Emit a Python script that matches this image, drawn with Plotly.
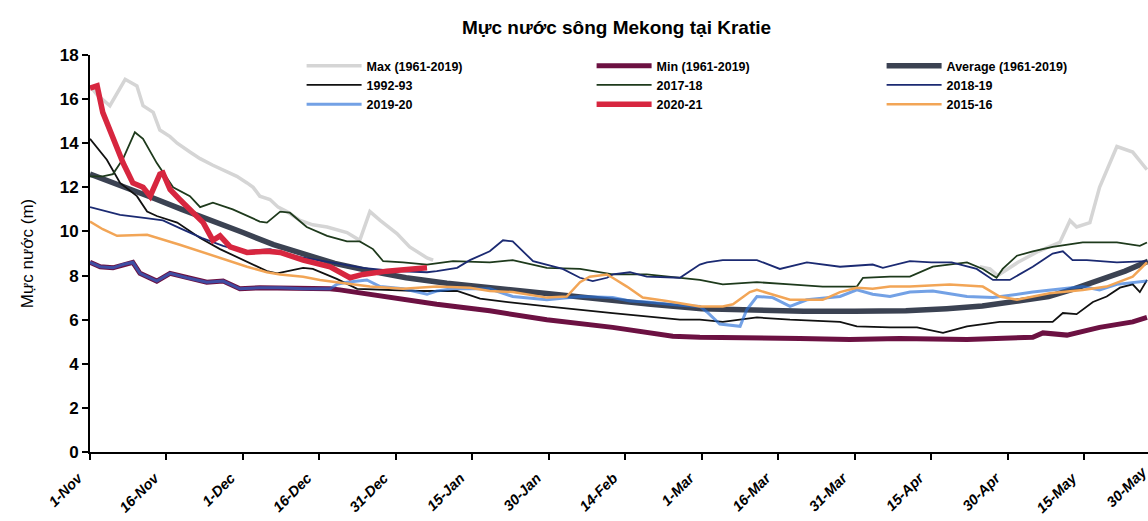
import plotly.graph_objects as go

# ---------------- data (day index from 1-Nov, water level in m) ----------------
tick_days = [0, 15, 30, 45, 60, 75, 90, 105, 120, 135, 150, 165, 180, 195, 210]
tick_labels = ["1-Nov", "16-Nov", "1-Dec", "16-Dec", "31-Dec", "15-Jan", "30-Jan", "14-Feb",
               "1-Mar", "16-Mar", "31-Mar", "15-Apr", "30-Apr", "15-May", "30-May"]

max_days = [0, 1.4, 3.9, 6.9, 9.2, 10.4, 12.4, 13.7, 15.7, 17.1, 19.6, 21.6, 24.1, 26.9, 28.8,
            30.8, 32.0, 33.3, 35.3, 36.9, 38.6, 41.2, 43.7, 46.5, 50.4, 52.9, 54.9, 56.9, 60.2,
            62.7, 66.1, 67.3, None, 174.5, 176.5, 178.0, 182.0, 186.0, 190.2, 192.2, 193.5, 196.1,
            198.0, 201.4, 204.5, 207.3]
max_vals = [16.6, 16.2, 15.7, 16.9, 16.6, 15.7, 15.4, 14.6, 14.3, 14.0, 13.6, 13.3, 13.0, 12.7, 12.5,
            12.2, 12.0, 11.6, 11.45, 11.1, 10.9, 10.5, 10.3, 10.2, 9.95, 9.6, 10.9, 10.5, 9.9,
            9.3, 8.8, 8.7, None, 8.4, 8.3, 8.0, 8.6, 9.1, 9.5, 10.5, 10.2, 10.4,
            12.0, 13.85, 13.6, 12.8]

min_days = [0, 2.0, 4.5, 6.5, 8.4, 9.8, 13.1, 15.7, 19.0, 22.9, 26.1, 29.4, 33.3, 37.3, 41.8,
            47.1, 49.0, 54.9, 61.4, 68.0, 78.4, 89.6, 102.5, 114.3, 119.6, 129.4, 139.2, 149.0,
            158.8, 172.0, 184.9, 186.9, 191.6, 198.0, 204.5, 207.3]
min_vals = [8.6, 8.4, 8.35, 8.5, 8.6, 8.1, 7.75, 8.1, 7.9, 7.7, 7.75, 7.4, 7.45, 7.45, 7.4,
            7.4, 7.35, 7.15, 6.9, 6.7, 6.4, 6.0, 5.65, 5.25, 5.2, 5.2, 5.15, 5.1,
            5.15, 5.1, 5.2, 5.4, 5.3, 5.65, 5.9, 6.1]

avg_days = [0, 6, 12, 18, 24, 30, 36, 42, 48, 55, 62, 70, 80, 90, 100, 110, 120, 130, 140,
            150, 160, 168, 175, 182, 188, 193, 198, 203, 207.5]
avg_vals = [12.6, 12.1, 11.55, 11.0, 10.5, 9.95, 9.4, 8.95, 8.55, 8.2, 7.9, 7.65, 7.4, 7.15,
            6.9, 6.7, 6.5, 6.42, 6.38, 6.38, 6.4, 6.5, 6.62, 6.85, 7.05, 7.4, 7.8, 8.2, 8.65]

y9293_days = [0, 3.3, 5.9, 9.2, 11.2, 13.1, 17.1, 21.6, 25.5, 28.8, 32.0, 34.7, 36.7, 39.0,
              41.8, 43.7, 48.4, 52.4, 58.8, 64.7, 72.0, 76.5, 80.0, 89.6, 102.5, 104.5, 115.7,
              119.6, 124.1, 130.8, 137.3, 147.1, 150.4, 156.9, 162.2, 167.3, 172.0, 178.4, 188.8,
              190.8, 193.5, 196.7, 199.4, 202.0, 204.5, 205.9, 207.3]
y9293_vals = [14.2, 13.25, 12.2, 11.6, 10.9, 10.7, 10.4, 9.7, 9.2, 8.85, 8.5, 8.2, 8.1, 8.2,
              8.35, 8.3, 7.85, 7.4, 7.35, 7.3, 7.3, 6.95, 6.85, 6.6, 6.3, 6.25, 6.0,
              6.0, 5.9, 6.1, 6.0, 5.9, 5.7, 5.65, 5.65, 5.4, 5.7, 5.9, 5.9,
              6.3, 6.25, 6.8, 7.05, 7.45, 7.6, 7.25, 7.8]

y1718_days = [0, 2.5, 4.5, 6.5, 8.8, 10.4, 13.1, 16.3, 19.6, 21.6, 24.1, 28.0, 33.3, 34.7,
              37.3, 39.2, 42.5, 46.5, 50.4, 52.9, 55.5, 57.5, 61.4, 66.1, 71.2, 78.4, 82.9, 89.6,
              96.1, 102.5, 109.2, 115.7, 119.6, 124.1, 130.8, 137.3, 143.7, 150.4, 151.6, 156.9,
              160.8, 165.3, 172.0, 175.1, 177.8, 179.0, 181.8, 184.9, 188.8, 194.7, 201.4, 205.9,
              207.3]
y1718_vals = [12.5, 12.5, 12.6, 13.3, 14.5, 14.2, 13.1, 12.0, 11.6, 11.1, 11.3, 11.0, 10.45, 10.4,
              10.9, 10.85, 10.2, 9.8, 9.55, 9.55, 9.2, 8.65, 8.6, 8.5, 8.65, 8.6, 8.7, 8.35,
              8.3, 8.05, 8.05, 7.9, 7.8, 7.6, 7.7, 7.6, 7.5, 7.5, 7.9, 7.95,
              7.95, 8.4, 8.6, 8.3, 7.9, 8.3, 8.9, 9.1, 9.3, 9.5, 9.5, 9.35,
              9.5]

y1819_days = [0, 5.9, 11.0, 14.3, 17.6, 22.0, 26.1, 30.0, 35.3, 41.0, 48.4, 53.5, 60.0, 66.1,
              68.0, 72.0, 74.5, 78.4, 81.0, 82.9, 86.9, 89.6, 92.7, 96.1, 98.6, 101.4, 102.5,
              105.9, 109.2, 115.7, 118.2, 119.6, 121.0, 124.1, 130.8, 135.3, 140.6, 147.1, 153.5,
              155.5, 160.8, 165.0, 169.0, 173.9, 177.1, 180.4, 184.9, 188.8, 190.8, 192.7, 195.5,
              201.4, 207.3]
y1819_vals = [11.1, 10.75, 10.6, 10.5, 10.15, 9.7, 9.35, 9.1, 9.2, 8.85, 8.55, 8.35, 8.2, 8.15,
              8.2, 8.35, 8.7, 9.1, 9.6, 9.55, 8.65, 8.5, 8.3, 7.9, 7.75, 7.9, 8.05,
              8.15, 7.95, 7.9, 8.3, 8.5, 8.6, 8.7, 8.7, 8.3, 8.6, 8.4, 8.5,
              8.35, 8.65, 8.6, 8.6, 8.3, 7.8, 7.8, 8.4, 9.0, 9.1, 8.7, 8.7,
              8.6, 8.65]

y1920_days = [0, 2.0, 4.5, 6.5, 8.4, 9.8, 13.1, 15.7, 19.0, 22.9, 26.1, 29.4, 33.3, 37.3, 41.8,
              47.1, 48.4, 50.4, 54.3, 56.9, 61.4, 66.1, 68.0, 71.2, 78.4, 82.9, 89.6, 96.1, 102.5,
              105.9, 109.2, 115.7, 119.6, 121.0, 123.5, 127.5, 128.8, 130.8, 133.9, 137.3, 140.6,
              147.1, 150.4, 153.5, 156.9, 160.8, 165.3, 172.0, 177.1, 184.9, 194.7, 198.0, 201.4,
              207.3]
y1920_vals = [8.6, 8.4, 8.35, 8.5, 8.6, 8.1, 7.75, 8.1, 7.9, 7.7, 7.75, 7.4, 7.45, 7.45, 7.4,
              7.4, 7.6, 7.7, 7.8, 7.5, 7.4, 7.15, 7.3, 7.4, 7.4, 7.05, 6.9, 7.05, 7.0,
              6.85, 6.8, 6.65, 6.6, 6.35, 5.8, 5.7, 6.45, 7.05, 7.0, 6.6, 6.9,
              7.05, 7.35, 7.15, 7.05, 7.25, 7.3, 7.05, 7.0, 7.25, 7.5, 7.35, 7.6,
              7.75]

y2021_days = [0, 1.4, 2.5, 4.5, 6.5, 8.4, 10.4, 11.8, 13.7, 14.3, 15.7, 17.6, 19.6, 22.2, 24.1,
              25.5, 27.5, 30.8, 34.7, 37.3, 41.8, 47.1, 51.0, 53.5, 58.2, 62.7, 66.1]
y2021_vals = [16.5, 16.6, 15.4, 14.2, 13.1, 12.2, 12.0, 11.6, 12.6, 12.65, 11.9, 11.45, 11.0, 10.4,
              9.6, 9.8, 9.3, 9.05, 9.1, 9.05, 8.7, 8.4, 7.9, 8.05, 8.2, 8.3, 8.35]

y1516_days = [0, 2.5, 5.3, 11.2, 17.6, 24.1, 30.8, 34.7, 37.3, 41.8, 45.1, 48.4, 54.9, 61.4, 68.0,
              74.5, 78.4, 82.9, 89.6, 93.5, 96.1, 98.0, 101.4, 102.5, 105.3, 108.4, 113.1, 119.6,
              124.1, 126.1, 129.4, 130.8, 133.9, 137.3, 143.7, 147.1, 150.4, 153.5, 156.9, 160.8,
              168.6, 175.1, 178.4, 181.8, 188.2, 194.7, 199.4, 204.5, 207.3]
y1516_vals = [10.45, 10.1, 9.8, 9.85, 9.4, 8.9, 8.4, 8.15, 8.05, 7.95, 7.8, 7.7, 7.5, 7.4, 7.5,
              7.45, 7.3, 7.25, 7.0, 7.05, 7.7, 7.95, 8.05, 7.9, 7.5, 7.0, 6.85, 6.6,
              6.6, 6.7, 7.25, 7.35, 7.15, 6.9, 6.9, 7.25, 7.45, 7.4, 7.5, 7.5,
              7.6, 7.5, 7.05, 6.9, 7.2, 7.35, 7.5, 7.95, 8.6]

# ---------------- figure ----------------
series = [
    ("Max (1961-2019)", max_days, max_vals, "#d5d5d5", 3.5),
    ("Min (1961-2019)", min_days, min_vals, "#6c1142", 5.0),
    ("Average (1961-2019)", avg_days, avg_vals, "#3b4252", 5.5),
    ("1992-93", y9293_days, y9293_vals, "#111111", 1.8),
    ("2017-18", y1718_days, y1718_vals, "#1e3a1c", 1.8),
    ("2018-19", y1819_days, y1819_vals, "#1b2a72", 1.8),
    ("2019-20", y1920_days, y1920_vals, "rgba(40,110,215,0.65)", 3.0),
    ("2020-21", y2021_days, y2021_vals, "#d7263f", 5.5),
    ("2015-16", y1516_days, y1516_vals, "#f2a556", 2.5),
]

fig = go.Figure()
for name, xs, ys, color, width in series:
    fig.add_trace(go.Scatter(
        x=xs, y=ys, name=name, mode="lines",
        line=dict(color=color, width=width), connectgaps=False,
    ))

x_end = 207.5
shown = [(d, l) for d, l in zip(tick_days, tick_labels) if d <= x_end]
tick_font = dict(size=14.5, weight="bold", style="italic", color="black")
fig.update_layout(
    width=1148, height=521,
    margin=dict(l=90, r=0, t=55, b=69, autoexpand=False),
    paper_bgcolor="white", plot_bgcolor="white",
    font=dict(family="Liberation Sans, Arial, sans-serif", color="black"),
    title=dict(text="<b>Mực nước sông Mekong tại Kratie</b>", x=0.537, xanchor="center",
               y=0.948, yanchor="middle", font=dict(size=19, color="black")),
    showlegend=True,
    legend=dict(orientation="h", x=0.2, y=1.01, xanchor="left", yanchor="top",
                entrywidth=220, entrywidthmode="pixels", itemwidth=55,
                font=dict(size=12.5, weight="bold"), bgcolor="rgba(0,0,0,0)",
                traceorder="normal", tracegroupgap=0),
    xaxis=dict(range=[0, x_end], tickmode="array", automargin=False,
               tickvals=[d for d, _ in shown], ticktext=[l for _, l in shown],
               tickangle=-45, tickfont=tick_font, ticklabelshift=-12, ticklabelstandoff=4,
               showline=True, linecolor="black", linewidth=2, ticks="outside",
               ticklen=6, tickwidth=1.5, tickcolor="black", showgrid=False, zeroline=False),
    yaxis=dict(range=[0, 18], tickmode="linear", tick0=0, dtick=2, automargin=False,
               tickfont=dict(size=17, weight="bold"),
               title=dict(text="Mực nước (m)", font=dict(size=17), standoff=22),
               showline=True, linecolor="black", linewidth=2, ticks="outside",
               ticklen=6, tickwidth=1.5, tickcolor="black", showgrid=False, zeroline=False),
)

# last tick label lies just beyond the cropped right edge
for d, l in zip(tick_days, tick_labels):
    if d > x_end:
        fig.add_annotation(x=d / x_end, y=0, xref="paper", yref="paper", text=l,
                           showarrow=False, textangle=-45, xanchor="right", yanchor="top",
                           yshift=-9, xshift=-8, font=tick_font)

fig.write_html("out.html", config={"displayModeBar": False}, post_script=(
    "document.body.style.margin='0';document.body.style.padding='0';"
    "document.documentElement.style.overflow='hidden';"))
